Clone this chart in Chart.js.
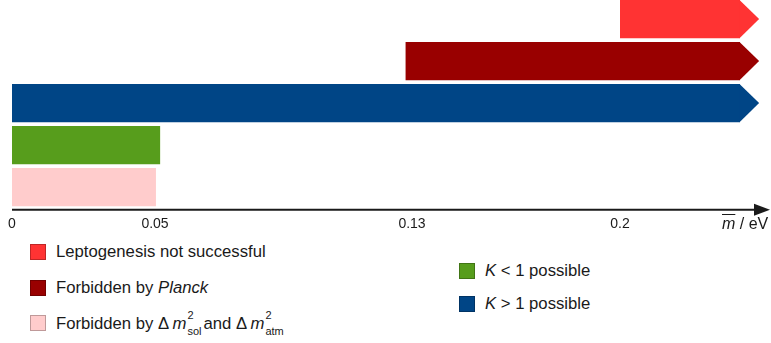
<!DOCTYPE html>
<html>
<head>
<meta charset="utf-8">
<script src="https://cdn.jsdelivr.net/npm/chart.js@4.4.1/dist/chart.umd.min.js"></script>
<style>
  html, body { margin: 0; padding: 0; background: #fff; }
  #wrap { position: relative; width: 771px; height: 343px; overflow: hidden; font-family: "Liberation Sans", Arial, sans-serif; color: #1a1a1a; }
  #plot { position: absolute; left: 0; top: -2px; width: 771px; height: 243px; }
  #unit { position: absolute; left: 722px; top: 215px; font-size: 16px; white-space: nowrap; }
  #unit i { text-decoration: overline; }
  .item { position: absolute; display: flex; align-items: center; white-space: nowrap; font-size: 16.7px; }
  .sw { width: 14px; height: 14px; border: 1px solid rgba(0,0,0,0.25); margin-right: 10px; flex: none; }
  .ss { display: inline-flex; flex-direction: column; vertical-align: 10px; font-size: 11px; line-height: 16px; margin: 0 2px 0 1px; }
</style>
</head>
<body>
<div id="wrap">
  <div id="plot"><canvas id="c"></canvas></div>
  <div id="unit"><i>m</i> / eV</div>
  <div id="legend"></div>
</div>
<script>
// Mass ranges (eV) for each band, top to bottom
const categories = ['Leptogenesis not successful', 'Forbidden by Planck', 'K > 1 possible', 'K < 1 possible', 'Forbidden by oscillations'];
const rangeStart = [0.2, 0.128, 0, 0, 0];
const rangeEnd = [0.24, 0.24, 0.24, 0.0516, 0.0503];
const openEnded = [true, true, true, false, false];
const barColors = ['#ff3333', '#990000', '#004586', '#579d1c', '#ffcccc'];

// Axis ticks in eV
const tickValues = [0, 0.05, 0.13, 0.2];
const tickLabels = ['0', '0.05', '0.13', '0.2'];

// Legend entries: [category index, label markup]
const legendLeft = [
  [0, 'Leptogenesis not successful'],
  [1, 'Forbidden by <i>Planck</i>'],
  [4, 'Forbidden by &Delta;&thinsp;<i>m</i><span class="ss"><span>2</span><span>sol</span></span>and &Delta;&thinsp;<i>m</i><span class="ss"><span>2</span><span>atm</span></span>']
];
const legendRight = [
  [3, '<i>K</i> &lt; 1 possible'],
  [2, '<i>K</i> &gt; 1 possible']
];

// Schematic mass axis: piecewise-linear between the labelled masses
class SchematicScale extends Chart.LinearScale {
  static id = 'schematic';
  _frac(v) {
    const s = this.options.stops, f = this.options.fractions;
    if (v <= s[0]) return f[0];
    for (let i = 1; i < s.length; i++) {
      if (v <= s[i] || i === s.length - 1) {
        return f[i - 1] + (v - s[i - 1]) / (s[i] - s[i - 1]) * (f[i] - f[i - 1]);
      }
    }
  }
  getPixelForValue(v) {
    return this.left + this._frac(v) * this.width;
  }
  getValueForPixel(p) {
    const s = this.options.stops, f = this.options.fractions;
    const t = (p - this.left) / this.width;
    for (let i = 1; i < s.length; i++) {
      if (t <= f[i] || i === s.length - 1) {
        return s[i - 1] + (t - f[i - 1]) / (f[i] - f[i - 1]) * (s[i] - s[i - 1]);
      }
    }
  }
  buildTicks() {
    return tickValues.map(v => ({ value: v }));
  }
}
Chart.register(SchematicScale);

const arrowPlugin = {
  id: 'arrows',
  afterDatasetsDraw(chart) {
    const ctx = chart.ctx;
    const meta = chart.getDatasetMeta(0);
    ctx.save();
    meta.data.forEach((bar, i) => {
      if (!openEnded[i]) return;
      const h = bar.height;
      ctx.fillStyle = barColors[i];
      ctx.beginPath();
      ctx.moveTo(bar.x - 0.5, bar.y - h / 2);
      ctx.lineTo(bar.x + h / 2, bar.y);
      ctx.lineTo(bar.x - 0.5, bar.y + h / 2);
      ctx.closePath();
      ctx.fill();
    });
    // horizontal axis with arrowhead
    const a = chart.chartArea;
    const y = a.bottom + 1.5;
    ctx.strokeStyle = '#1a1a1a';
    ctx.fillStyle = '#1a1a1a';
    ctx.lineWidth = 2;
    ctx.beginPath();
    ctx.moveTo(a.left, y);
    ctx.lineTo(chart.width - 14, y);
    ctx.stroke();
    ctx.beginPath();
    ctx.moveTo(chart.width - 17, y - 6);
    ctx.lineTo(chart.width - 1, y);
    ctx.lineTo(chart.width - 17, y + 6);
    ctx.closePath();
    ctx.fill();
    ctx.restore();
  }
};

new Chart(document.getElementById('c'), {
  type: 'bar',
  data: {
    labels: categories,
    datasets: [{
      data: rangeStart.map((s, i) => [s, rangeEnd[i]]),
      backgroundColor: barColors,
      borderWidth: 0,
      barPercentage: 0.91,
      categoryPercentage: 1
    }]
  },
  options: {
    indexAxis: 'y',
    responsive: true,
    maintainAspectRatio: false,
    animation: false,
    layout: { padding: { left: 12, right: 1, top: 0, bottom: 0 } },
    plugins: { legend: { display: false }, tooltip: { enabled: false } },
    scales: {
      x: {
        type: 'schematic',
        min: 0,
        max: 0.25,
        stops: [0, 0.05, 0.13, 0.2, 0.25],
        fractions: [0, 143 / 758, 400 / 758, 608 / 758, 1],
        grid: { display: false, drawTicks: false },
        border: { display: false },
        ticks: {
          padding: 8,
          maxRotation: 0,
          autoSkip: false,
          color: '#1a1a1a',
          font: { family: '"Liberation Sans", sans-serif', size: 14 },
          callback: (v) => tickLabels[tickValues.indexOf(v)] ?? ''
        }
      },
      y: { display: false }
    }
  },
  plugins: [arrowPlugin]
});

// Legend below the axis
const legend = document.getElementById('legend');
function addItem(entry, left, top) {
  const [idx, html] = entry;
  const d = document.createElement('div');
  d.className = 'item';
  d.style.left = left + 'px';
  d.style.top = top + 'px';
  d.innerHTML = '<span class="sw" style="background:' + barColors[idx] + '"></span><span>' + html + '</span>';
  legend.appendChild(d);
}
legendLeft.forEach((e, i) => addItem(e, 30, [242, 278, 307][i]));
legendRight.forEach((e, i) => addItem(e, 459, [261, 294][i]));
</script>
</body>
</html>
